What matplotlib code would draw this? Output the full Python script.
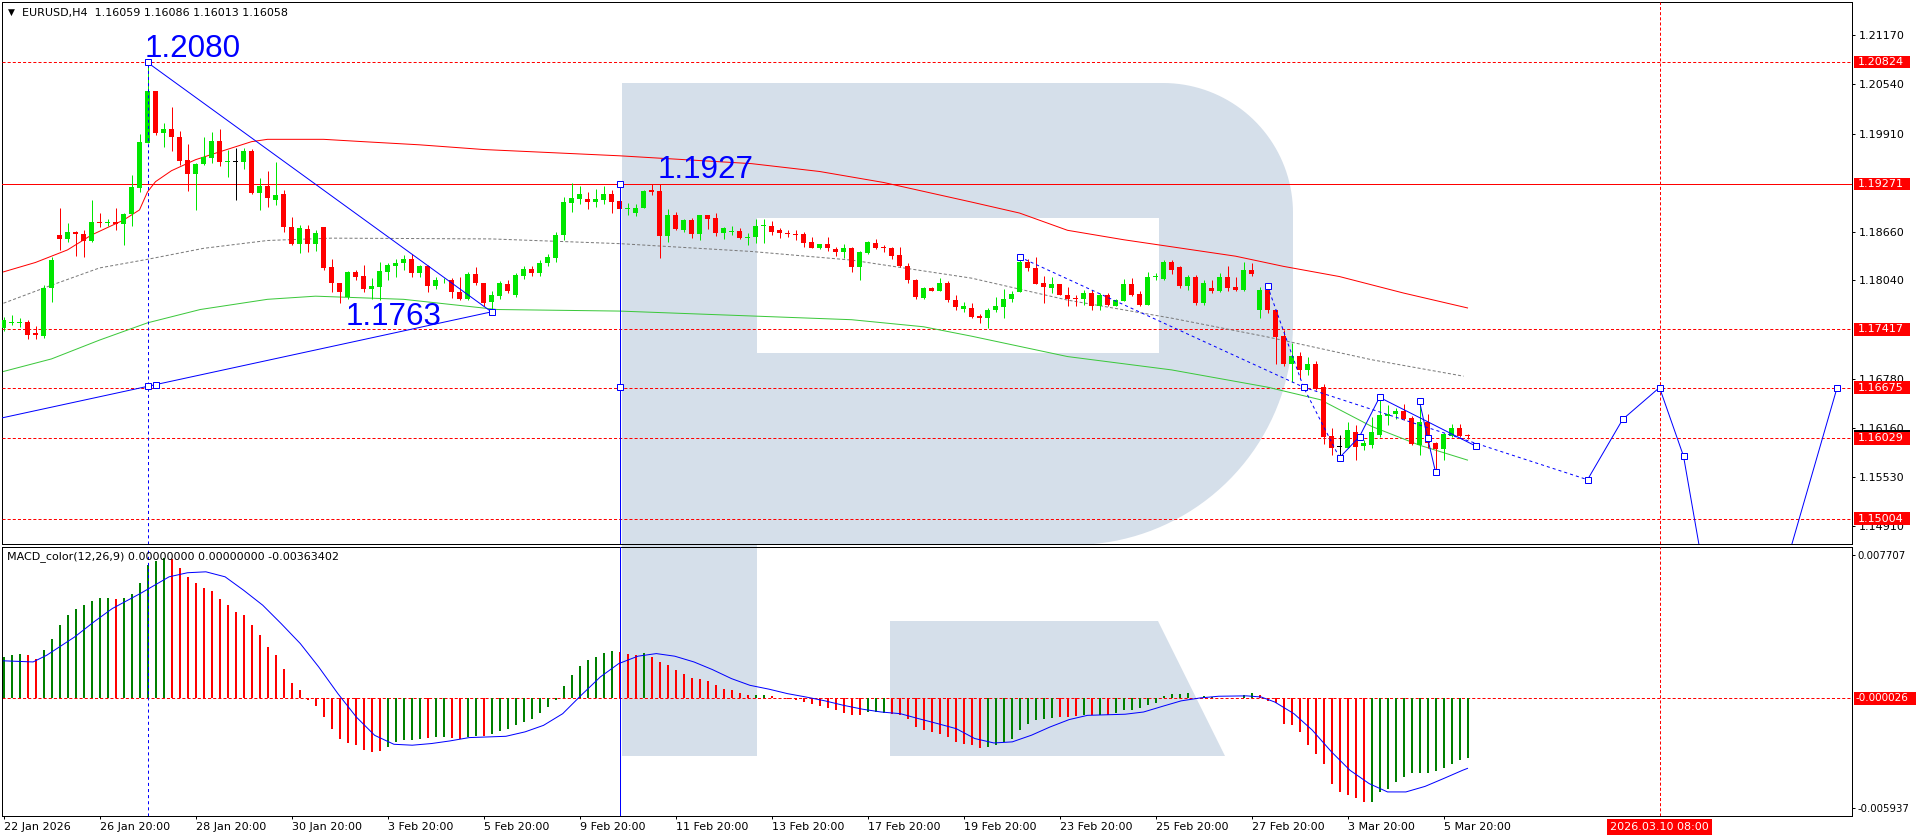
# EURUSD H4 con MACD, estilo MetaTrader
import numpy as np
import matplotlib
matplotlib.use('Agg')
import matplotlib.pyplot as plt
from matplotlib.patches import Rectangle, Polygon
from matplotlib.transforms import blended_transform_factory

plt.rcParams['font.family'] = 'DejaVu Sans'
plt.rcParams['lines.scale_dashes'] = False

# ---------------- datos ----------------
opens = [
    1.1743, 1.1750, 1.1750, 1.1751, 1.1737, 1.1733, 1.1794, 1.1862, 1.1857, 1.1866,
    1.1863, 1.1854, 1.1878, 1.1877, 1.1879, 1.1876, 1.1889, 1.1922, 1.1979, 1.2046,
    1.1992, 1.1997, 1.1987, 1.1957, 1.1940, 1.1953, 1.1960, 1.1982, 1.1955, 1.1955,
    1.1955, 1.1969, 1.1915, 1.1925, 1.1907, 1.1914, 1.1872, 1.1851, 1.1870, 1.1850,
    1.1872, 1.1821, 1.1801, 1.1783, 1.1815, 1.1810, 1.1793, 1.1796, 1.1815, 1.1823,
    1.1826, 1.1832, 1.1813, 1.1822, 1.1797, 1.1804, 1.1805, 1.1789, 1.1780, 1.1812,
    1.1801, 1.1777, 1.1784, 1.1800, 1.1785, 1.1810, 1.1819, 1.1814, 1.1826, 1.1833,
    1.1862, 1.1903, 1.1908, 1.1908, 1.1904, 1.1907, 1.1914, 1.1905, 1.1895, 1.1890,
    1.1897, 1.1919, 1.1918, 1.1861, 1.1887, 1.1868, 1.1881, 1.1863, 1.1887, 1.1884,
    1.1864, 1.1866, 1.1867, 1.1858, 1.1859, 1.1873, 1.1874, 1.1868, 1.1864, 1.1863,
    1.1863, 1.1853, 1.1845, 1.1850, 1.1844, 1.1840, 1.1846, 1.1821, 1.1839, 1.1852,
    1.1847, 1.1846, 1.1836, 1.1823, 1.1805, 1.1782, 1.1795, 1.1791, 1.1801, 1.1779,
    1.1768, 1.1769, 1.1759, 1.1756, 1.1767, 1.1770, 1.1780, 1.1789, 1.1827, 1.1820,
    1.1801, 1.1795, 1.1799, 1.1786, 1.1782, 1.1780, 1.1788, 1.1772, 1.1785, 1.1772,
    1.1778, 1.1800, 1.1787, 1.1773, 1.1808, 1.1806, 1.1828, 1.1821, 1.1797, 1.1808,
    1.1775, 1.1795, 1.1790, 1.1808, 1.1796, 1.1792, 1.1817, 1.1766, 1.1792, 1.1766,
    1.1733, 1.1698, 1.1708, 1.1690, 1.1698, 1.1668, 1.1606, 1.1592, 1.1591, 1.1611,
    1.1593, 1.1594, 1.1607, 1.1631, 1.1634, 1.1638, 1.1629, 1.1594, 1.1623, 1.1597,
    1.1589, 1.1606, 1.1616, 1.16059]
highs = [
    1.1757, 1.1760, 1.1756, 1.1753, 1.1746, 1.1798, 1.1834, 1.1897, 1.1877, 1.1867,
    1.1868, 1.1907, 1.1890, 1.1882, 1.1897, 1.1890, 1.1938, 1.1991, 1.2082, 1.2046,
    1.2005, 1.2025, 1.1995, 1.1978, 1.1954, 1.1987, 1.1993, 1.1997, 1.1970, 1.1973,
    1.1973, 1.1972, 1.1935, 1.1943, 1.1955, 1.1920, 1.1885, 1.1875, 1.1875, 1.1868,
    1.1872, 1.1831, 1.1801, 1.1816, 1.1818, 1.1824, 1.1807, 1.1828, 1.1826, 1.1832,
    1.1836, 1.1838, 1.1824, 1.1824, 1.1808, 1.1807, 1.1807, 1.1808, 1.1815, 1.1821,
    1.1801, 1.1790, 1.1803, 1.1805, 1.1813, 1.1822, 1.1822, 1.1830, 1.1838, 1.1866,
    1.1911, 1.1928, 1.1925, 1.1917, 1.1921, 1.1924, 1.1919, 1.1905, 1.1903, 1.1902,
    1.1920, 1.1927, 1.1927, 1.1895, 1.1891, 1.1883, 1.1884, 1.1888, 1.1887, 1.1890,
    1.1872, 1.1873, 1.1871, 1.1865, 1.1883, 1.1882, 1.1880, 1.1871, 1.1869, 1.1869,
    1.1866, 1.1860, 1.1851, 1.1860, 1.1847, 1.1850, 1.1847, 1.1842, 1.1854, 1.1857,
    1.1849, 1.1847, 1.1847, 1.1826, 1.1806, 1.1796, 1.1796, 1.1807, 1.1803, 1.1785,
    1.1776, 1.1775, 1.1761, 1.1769, 1.1783, 1.1793, 1.1791, 1.1835, 1.1831, 1.1834,
    1.1810, 1.1808, 1.1800, 1.1796, 1.1786, 1.1792, 1.1792, 1.1788, 1.1788, 1.1781,
    1.1806, 1.1807, 1.1791, 1.1815, 1.1813, 1.1830, 1.1830, 1.1823, 1.1811, 1.1811,
    1.1805, 1.1805, 1.1813, 1.1823, 1.1808, 1.1828, 1.1826, 1.1796, 1.1798, 1.1767,
    1.1741, 1.1724, 1.1713, 1.1707, 1.1701, 1.1672, 1.1616, 1.1607, 1.1624, 1.1620,
    1.1600, 1.1630, 1.1656, 1.1645, 1.1641, 1.1646, 1.1631, 1.1645, 1.1634, 1.1598,
    1.1610, 1.1621, 1.1621, 1.16086]
lows = [
    1.1740, 1.1747, 1.1745, 1.1729, 1.1729, 1.1731, 1.1776, 1.1843, 1.1853, 1.1835,
    1.1834, 1.1853, 1.1872, 1.1873, 1.1868, 1.1849, 1.1873, 1.1917, 1.1979, 1.1990,
    1.1974, 1.1969, 1.1951, 1.1918, 1.1894, 1.1951, 1.1954, 1.1950, 1.1936, 1.1906,
    1.1946, 1.1914, 1.1894, 1.1898, 1.1900, 1.1866, 1.1849, 1.1839, 1.1840, 1.1842,
    1.1817, 1.1789, 1.1775, 1.1781, 1.1804, 1.1789, 1.1780, 1.1779, 1.1805, 1.1808,
    1.1818, 1.1808, 1.1808, 1.1789, 1.1793, 1.1801, 1.1782, 1.1779, 1.1779, 1.1798,
    1.1772, 1.1763, 1.1781, 1.1788, 1.1783, 1.1806, 1.1810, 1.1810, 1.1822, 1.1828,
    1.1856, 1.1891, 1.1902, 1.1895, 1.1898, 1.1901, 1.1890, 1.1895, 1.1888, 1.1886,
    1.1896, 1.1913, 1.1833, 1.1853, 1.1868, 1.1866, 1.1858, 1.1855, 1.1870, 1.1861,
    1.1857, 1.1862, 1.1857, 1.1849, 1.1852, 1.1852, 1.1862, 1.1858, 1.1859, 1.1855,
    1.1847, 1.1845, 1.1844, 1.1841, 1.1835, 1.1833, 1.1815, 1.1804, 1.1838, 1.1844,
    1.1840, 1.1832, 1.1821, 1.1801, 1.1781, 1.1781, 1.1790, 1.1790, 1.1776, 1.1766,
    1.1764, 1.1756, 1.1750, 1.1743, 1.1764, 1.1756, 1.1777, 1.1789, 1.1816, 1.1799,
    1.1775, 1.1788, 1.1785, 1.1771, 1.1771, 1.1773, 1.1767, 1.1767, 1.1771, 1.1771,
    1.1778, 1.1784, 1.1771, 1.1773, 1.1804, 1.1805, 1.1812, 1.1795, 1.1792, 1.1773,
    1.1773, 1.1788, 1.1789, 1.1790, 1.1791, 1.1791, 1.1810, 1.1756, 1.1763, 1.1698,
    1.1695, 1.1674, 1.1679, 1.1684, 1.1665, 1.1596, 1.1582, 1.1578, 1.1590, 1.1575,
    1.1588, 1.1590, 1.1605, 1.1620, 1.1627, 1.1626, 1.1594, 1.1581, 1.1590, 1.1560,
    1.1575, 1.1605, 1.1605, 1.16013]
closes = [
    1.1754, 1.1751, 1.1751, 1.1735, 1.1735, 1.1794, 1.1830, 1.1857, 1.1866, 1.1863,
    1.1854, 1.1878, 1.1877, 1.1878, 1.1876, 1.1889, 1.1923, 1.1981, 1.2046, 1.1992,
    1.1997, 1.1987, 1.1956, 1.1940, 1.1952, 1.1961, 1.1982, 1.1955, 1.1956, 1.1955,
    1.1969, 1.1915, 1.1924, 1.1909, 1.1913, 1.1872, 1.1851, 1.1871, 1.1851, 1.1864,
    1.1820, 1.1801, 1.1789, 1.1815, 1.1809, 1.1793, 1.1797, 1.1816, 1.1824, 1.1826,
    1.1832, 1.1813, 1.1822, 1.1797, 1.1805, 1.1805, 1.1789, 1.1780, 1.1812, 1.1801,
    1.1775, 1.1785, 1.1801, 1.1791, 1.1811, 1.1819, 1.1814, 1.1826, 1.1834, 1.1862,
    1.1904, 1.1909, 1.1914, 1.1904, 1.1908, 1.1914, 1.1904, 1.1895, 1.1896, 1.1897,
    1.1918, 1.1917, 1.1861, 1.1887, 1.1870, 1.1881, 1.1863, 1.1887, 1.1883, 1.1865,
    1.1871, 1.1867, 1.1858, 1.1859, 1.1874, 1.1874, 1.1866, 1.1864, 1.1863, 1.1862,
    1.1852, 1.1845, 1.1850, 1.1845, 1.1840, 1.1846, 1.1821, 1.1840, 1.1853, 1.1846,
    1.1845, 1.1835, 1.1822, 1.1805, 1.1783, 1.1795, 1.1791, 1.1801, 1.1779, 1.1770,
    1.1771, 1.1757, 1.1756, 1.1767, 1.1771, 1.1780, 1.1787, 1.1827, 1.1820, 1.1800,
    1.1796, 1.1799, 1.1786, 1.1781, 1.1781, 1.1788, 1.1772, 1.1785, 1.1773, 1.1779,
    1.1800, 1.1786, 1.1773, 1.1808, 1.1809, 1.1828, 1.1818, 1.1797, 1.1808, 1.1775,
    1.1801, 1.1790, 1.1808, 1.1794, 1.1792, 1.1817, 1.1812, 1.1792, 1.1766, 1.1732,
    1.1697, 1.1708, 1.1690, 1.1698, 1.1666, 1.1604, 1.1591, 1.1592, 1.1613, 1.1592,
    1.1597, 1.1611, 1.1632, 1.1634, 1.1638, 1.1627, 1.1595, 1.1623, 1.1597, 1.1589,
    1.1608, 1.1616, 1.1606, 1.16058]

# medias moviles (barra, precio)
ma_red_k = [0, 4, 8, 11, 15, 17, 18, 19, 21, 24, 27, 31, 33, 40, 45, 52, 60, 77, 93.5,
            102, 110, 121, 127, 133, 140, 146, 154, 160, 167, 175, 183]
ma_red_v = [1.1815, 1.1827, 1.1843, 1.1862, 1.1881, 1.1894, 1.1917, 1.1930, 1.1944, 1.1958,
            1.1968, 1.1981, 1.1984, 1.1984, 1.1981, 1.1977, 1.1971, 1.1963, 1.1953, 1.1943,
            1.1929, 1.1904, 1.1890, 1.1868, 1.1856, 1.1847, 1.1835, 1.1822, 1.1809, 1.1788,
            1.1769]
ma_gray_k = [0, 6, 12, 18, 25, 33, 41, 61, 77, 93.5, 106, 121, 133, 146, 158, 171, 182.5]
ma_gray_v = [1.1775, 1.1798, 1.1820, 1.1831, 1.1845, 1.1855, 1.1858, 1.1857, 1.1851, 1.1841,
             1.1830, 1.1807, 1.1779, 1.1756, 1.1732, 1.1703, 1.1682]
ma_green_k = [0, 6, 12, 18, 24.6, 33, 39, 50, 61.7, 77, 106, 115, 121, 133, 146, 158,
              164.6, 171, 177, 183]
ma_green_v = [1.1688, 1.1704, 1.1728, 1.1750, 1.1767, 1.1780, 1.1784, 1.1780, 1.1767, 1.1765,
              1.1754, 1.1745, 1.1733, 1.1707, 1.1690, 1.1668, 1.1652, 1.1618, 1.1594, 1.1575]

# niveles horizontales
levels = [1.20824, 1.19271, 1.17417, 1.16675, 1.16029, 1.15004]
price_ticks = [1.21170, 1.20540, 1.19910, 1.18660, 1.18040, 1.16780, 1.16160, 1.15530, 1.14910]

# MACD
hist = [
    0.00221, 0.00230, 0.00239, 0.00234, 0.00212, 0.00261, 0.00320, 0.00392, 0.00446, 0.00477,
    0.00500, 0.00523, 0.00540, 0.00541, 0.00536, 0.00541, 0.00563, 0.00621, 0.00716, 0.00739,
    0.00752, 0.00747, 0.00698, 0.00653, 0.00617, 0.00595, 0.00576, 0.00536, 0.00500, 0.00464,
    0.00446, 0.00392, 0.00338, 0.00272, 0.00230, 0.00158, 0.00083, 0.00041, -0.00013, -0.00043,
    -0.00103, -0.00166, -0.00219, -0.00243, -0.00255, -0.00282, -0.00291, -0.00286, -0.00264, -0.00237,
    -0.00228, -0.00225, -0.00219, -0.00216, -0.00210, -0.00210, -0.00216, -0.00219, -0.00210, -0.00207,
    -0.00207, -0.00196, -0.00180, -0.00166, -0.00148, -0.00130, -0.00112, -0.00081, -0.00049, -0.00013,
    0.00063, 0.00122, 0.00171, 0.00203, 0.00221, 0.00243, 0.00254, 0.00248, 0.00239, 0.00230,
    0.00243, 0.00221, 0.00194, 0.00176, 0.00153, 0.00131, 0.00110, 0.00104, 0.00092, 0.00068,
    0.00050, 0.00041, 0.00027, 0.00014, 0.00014, 0.00018, 0.00009, 0.00002, -0.00005, -0.00013,
    -0.00022, -0.00034, -0.00045, -0.00052, -0.00067, -0.00081, -0.00094, -0.00094, -0.00076, -0.00076,
    -0.00079, -0.00085, -0.00094, -0.00112, -0.00157, -0.00171, -0.00183, -0.00196, -0.00210, -0.00237,
    -0.00246, -0.00255, -0.00268, -0.00264, -0.00255, -0.00237, -0.00219, -0.00174, -0.00139, -0.00117,
    -0.00112, -0.00106, -0.00103, -0.00103, -0.00099, -0.00094, -0.00094, -0.00090, -0.00090, -0.00081,
    -0.00063, -0.00067, -0.00052, -0.00040, -0.00027, 0.00009, 0.00023, 0.00023, 0.00027, 0.00002,
    0.00009, 0.00005, 0.00002, 0.00002, 0.00002, 0.00014, 0.00027, 0.00014, -0.00016, -0.00027,
    -0.00139, -0.00148, -0.00183, -0.00255, -0.00304, -0.00354, -0.00462, -0.00507, -0.00525, -0.00538,
    -0.00561, -0.00561, -0.00507, -0.00489, -0.00453, -0.00426, -0.00405, -0.00405, -0.00405, -0.00394,
    -0.00376, -0.00354, -0.00333, -0.00322]
hist_col = ("GGGRRGGGGG" "GGGGRGGGGG" "GRRRRRRRRR" "RRRRRRRRRR" "RRRRRRRRGG"
            "GGGRGGRRGG" "RGGGGGGGGG" "GGGGGGGRRR" "GRRRRRRRRR" "RRRRGGRRRR"
            "RRRRRRRRGG" "GRRRRRRRRR" "RRRGGGGGGG" "GGRRRGRGRG" "GGGGGGGGGR"
            "GGGRRGGRRR" "RRRRRRRRRR" "RGGGGGGGGG" "GGGG")
sig_k = [0, 3.7, 5.4, 8.9, 11.3, 13.6, 17.1, 20.7, 23, 25.3, 27.7, 30, 32.4, 34.7, 37.1,
         39.4, 41.8, 44.1, 46.4, 48.8, 51.1, 53.5, 55.8, 58.2, 62.8, 65.2, 67.5, 69.9, 72.2,
         74.6, 76.9, 79.3, 81.6, 83.9, 86.3, 88.6, 91, 93.3, 95.7, 98, 100.3, 102.7, 105,
         107.4, 109.7, 112.1, 114.4, 116.8, 119.1, 121.4, 123.8, 126.1, 128.5, 130.8, 133.2,
         135.5, 140.2, 142.5, 144.9, 147.2, 149.6, 151.9, 155.4, 157.2, 158.9, 161.3, 163.6,
         166, 168.3, 170.7, 173, 175.3, 177.7, 180, 182.4, 183]
sig_v = [0.00200, 0.00194, 0.00230, 0.00329, 0.00410, 0.00482, 0.00563, 0.00653, 0.00675,
         0.00680, 0.00653, 0.00581, 0.00500, 0.00401, 0.00293, 0.00167, 0.00023, -0.00103,
         -0.00202, -0.00250, -0.00255, -0.00246, -0.00232, -0.00214, -0.00207, -0.00183,
         -0.00148, -0.00085, 0.00014, 0.00113, 0.00185, 0.00225, 0.00239, 0.00225, 0.00194,
         0.00153, 0.00104, 0.00068, 0.00047, 0.00023, 0.00005, -0.00016, -0.00040, -0.00061,
         -0.00076, -0.00085, -0.00112, -0.00139, -0.00166, -0.00219, -0.00243, -0.00237,
         -0.00201, -0.00157, -0.00117, -0.00094, -0.00088, -0.00076, -0.00045, -0.00016,
         0.00000, 0.00009, 0.00011, 0.00005, -0.00022, -0.00085, -0.00174, -0.00291,
         -0.00390, -0.00462, -0.00507, -0.00507, -0.00477, -0.00435, -0.00390, -0.00380]

date_k = [0, 12, 24, 36, 48, 60, 72, 84, 96, 108, 120, 132, 144, 156, 168, 180]
date_lab = ['22 Jan 2026', '26 Jan 20:00', '28 Jan 20:00', '30 Jan 20:00', '3 Feb 20:00',
            '5 Feb 20:00', '9 Feb 20:00', '11 Feb 20:00', '13 Feb 20:00', '17 Feb 20:00',
            '19 Feb 20:00', '23 Feb 20:00', '25 Feb 20:00', '27 Feb 20:00', '3 Mar 20:00',
            '5 Mar 20:00']

# ---------------- figura ----------------
W, H = 1916, 840
PX = 0.72
BLUE = '#0000ff'
RED = '#ff0000'
DASH = (0, (2.2, 1.5))

fig = plt.figure(figsize=(W / 100, H / 100), dpi=100)
fig.patch.set_facecolor('white')


def axes_px(x0, y0, x1, y1, **kw):
    return fig.add_axes([x0 / W, 1 - y1 / H, (x1 - x0) / W, (y1 - y0) / H], **kw)


# logo de fondo
bg = axes_px(0, 0, W, H, zorder=0)
bg.set_xlim(0, W)
bg.set_ylim(H, 0)
bg.axis('off')
LOGO = '#d5dfea'
bg.add_patch(Rectangle((622, 83), 135, 673, fc=LOGO, ec='none'))
t1 = np.linspace(-np.pi / 2, 0, 40)
t2 = np.linspace(0, np.pi / 2, 40)
bowl = [(622, 83)]
bowl += list(zip(1163 + 130 * np.cos(t1), 213 + 130 * np.sin(t1)))
bowl += list(zip(1073 + 220 * np.cos(t2), 325 + 220 * np.sin(t2)))
bowl += [(622, 545)]
bg.add_patch(Polygon(bowl, closed=True, fc=LOGO, ec='none'))
bg.add_patch(Rectangle((757, 218), 402, 135, fc='white', ec='none'))
bg.add_patch(Polygon([(890, 621), (1158, 621), (1225, 756), (890, 756)],
                     closed=True, fc=LOGO, ec='none'))

ax = axes_px(2, 2, 1852, 544, zorder=1)
mx = axes_px(2, 547, 1852, 816, zorder=1)
XL = (-0.1875, 231.06)
for a in (ax, mx):
    a.set_facecolor('none')
    a.set_xlim(*XL)
    for s in a.spines.values():
        s.set_linewidth(PX)
        s.set_color('black')
ax.set_ylim(1.14680, 1.21591)
mx.set_ylim(-0.006368, 0.008138)

# velas
o = np.array(opens)
h = np.array(highs)
l = np.array(lows)
c = np.array(closes)
k = np.arange(len(c))
cols = np.where(c > o, '#00e600', np.where(c < o, RED, 'black'))
ax.vlines(k, l, h, colors=cols, lw=PX, zorder=5)
ax.bar(k, np.maximum(np.abs(c - o), 0.00012), bottom=np.minimum(o, c), width=0.62,
       color=cols, lw=0, zorder=6)

# medias
ax.plot(ma_red_k, ma_red_v, color=RED, lw=PX, zorder=4)
ax.plot(ma_gray_k, ma_gray_v, color='#7a7a7a', lw=PX, ls=DASH, zorder=4)
ax.plot(ma_green_k, ma_green_v, color='#3cc83c', lw=PX, zorder=4)

# niveles
for lv in levels:
    ax.axhline(lv, color=RED, lw=PX, ls='-' if lv == 1.19271 else DASH, zorder=3)

# dibujos azules
solid = [([-1, 61], [1.1627, 1.1764]),
         ([18, 61], [1.2082, 1.1764]),
         ([167, 169.5, 172], [1.1578, 1.1605, 1.1655]),
         ([172, 184], [1.1655, 1.1593]),
         ([177, 178, 179], [1.1650, 1.16035, 1.1560]),
         ([198, 202.4, 207, 210, 216.3, 229.2], [1.1550, 1.1627, 1.16675, 1.1580, 1.1212, 1.16675])]
dashed = [([127, 162.5, 198], [1.1834, 1.1668, 1.1550]),
          ([158, 162.5, 167], [1.1797, 1.1668, 1.1578])]
for xs, ys in solid:
    ax.plot(xs, ys, color=BLUE, lw=PX, zorder=7)
for xs, ys in dashed:
    ax.plot(xs, ys, color=BLUE, lw=PX, ls=(0, (2.2, 2.2)), zorder=7)
sq_k = [18, 18, 19, 61, 77, 77, 127, 158, 162.5, 167, 169.5, 172, 177, 178, 179, 184,
        198, 202.4, 207, 210, 229.2]
sq_v = [1.2082, 1.1669, 1.1671, 1.1764, 1.19271, 1.1668, 1.1834, 1.1797, 1.1668, 1.1578,
        1.1605, 1.1655, 1.1650, 1.16035, 1.1560, 1.1593, 1.1550, 1.1627, 1.16675, 1.1580,
        1.16675]
ax.plot(sq_k, sq_v, ls='none', marker='s', ms=4.2, mfc='white', mec=BLUE, mew=PX, zorder=8)

ylo = ax.get_ylim()[0]
ax.plot([18, 18], [ylo, 1.2082], color=BLUE, lw=PX, ls=(0, (2.2, 2.2)), zorder=7)
ax.plot([77, 77], [ylo, 1.19271], color=BLUE, lw=PX, zorder=7)
ax.axvline(207, color=RED, lw=PX, ls=DASH, zorder=3)
mx.axvline(18, color=BLUE, lw=PX, ls=(0, (2.2, 2.2)), zorder=7)
mx.axvline(77, color=BLUE, lw=PX, zorder=7)
mx.axvline(207, color=RED, lw=PX, ls=DASH, zorder=3)

big = dict(color=BLUE, fontsize=22.6, family='Liberation Sans', ha='left', va='baseline', zorder=9)
ax.text(17.7, 1.20890, '1.2080', **big)
ax.text(81.8, 1.19343, '1.1927', **big)
ax.text(42.8, 1.17473, '1.1763', **big)

# eje de precios
ax.yaxis.tick_right()
ax.set_yticks(price_ticks)
ax.set_yticklabels([f'{t:.5f}' for t in price_ticks])
ax.tick_params(axis='y', direction='out', length=3 * PX, width=PX, pad=4 * PX, labelsize=8)
ax.tick_params(axis='x', bottom=False, labelbottom=False)

tr = blended_transform_factory(ax.transAxes, ax.transData)
ppu = 542 / (1.21591 - 1.14680)
hb = 6.3 / ppu
ax.add_patch(Rectangle((1 + 2 / 1850, 1.16058 - hb), 56 / 1850, 2 * hb, transform=tr,
                       fc='black', ec='none', clip_on=False, zorder=10))
for lv in levels:
    ax.add_patch(Rectangle((1 + 2 / 1850, lv - hb), 56 / 1850, 2 * hb, transform=tr,
                           fc=RED, ec='none', clip_on=False, zorder=11))
    ax.text(1 + 6 / 1850, lv, f'{lv:.5f}', transform=tr, color='white', fontsize=8,
            va='center', ha='left', clip_on=False, zorder=12)

# MACD
mx.axhline(-0.000026, color=RED, lw=PX, ls=DASH, zorder=2)
hcols = ['#008000' if ch == 'G' else RED for ch in hist_col]
mx.vlines(k, 0, hist, colors=hcols, lw=2 * PX, zorder=4)
mx.plot(sig_k, sig_v, color=BLUE, lw=PX, zorder=5)
mx.yaxis.tick_right()
mx.set_yticks([0.007707, -0.005937])
mx.set_yticklabels(['0.007707', '-0.005937'])
mx.tick_params(axis='y', direction='out', length=3 * PX, width=PX, pad=2 * PX, labelsize=7.3)
mx.set_xticks(date_k)
mx.set_xticklabels(date_lab, ha='left')
mx.tick_params(axis='x', direction='out', length=3 * PX, width=PX, pad=2.5 * PX, labelsize=8)

tr2 = blended_transform_factory(mx.transAxes, mx.transData)
hb2 = 6.3 * (0.008138 + 0.006368) / 269
mx.add_patch(Rectangle((1 + 2 / 1850, -0.000026 - hb2), 70 / 1850, 2 * hb2, transform=tr2,
                       fc=RED, ec='none', clip_on=False, zorder=11))
mx.text(1 + 4 / 1850, -0.000026, '-0.000026', transform=tr2, color='white', fontsize=7.5,
        va='center', ha='left', clip_on=False, zorder=12)

tr3 = blended_transform_factory(mx.transData, mx.transAxes)
mx.text(207, -0.041, '2026.03.10 08:00', transform=tr3, color='white', fontsize=8,
        ha='center', va='center', clip_on=False, zorder=12,
        bbox=dict(boxstyle='square,pad=0.25', fc=RED, ec='none'))

# cabeceras
fig.text(11 / W, 1 - 12.5 / H, '▼', fontsize=6.5, ha='center', va='center')
fig.text(22 / W, 1 - 13 / H, 'EURUSD,H4  1.16059 1.16086 1.16013 1.16058',
         fontsize=8, va='center', ha='left')
fig.text(7 / W, 1 - 557 / H, 'MACD_color(12,26,9) 0.00000000 0.00000000 -0.00363402',
         fontsize=8, va='center', ha='left', zorder=20)

fig.savefig('out.png', dpi=100)
